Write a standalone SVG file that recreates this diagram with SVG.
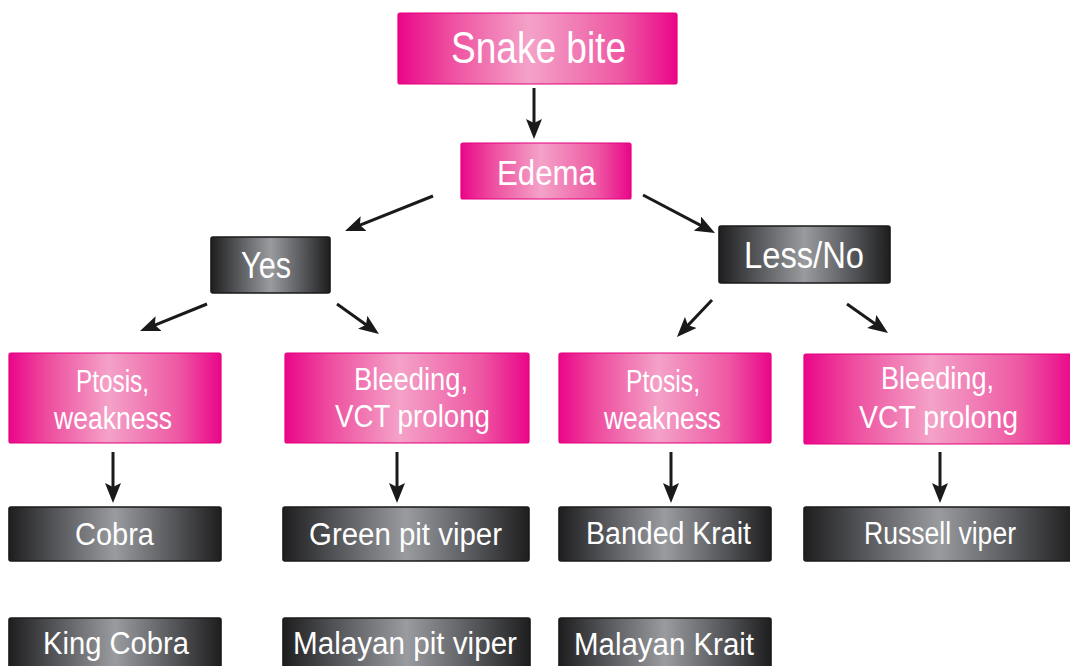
<svg xmlns="http://www.w3.org/2000/svg" width="1070" height="666" viewBox="0 0 1070 666">
<defs>
<linearGradient id="gPink" x1="0" y1="0" x2="1" y2="0">
<stop offset="0" stop-color="#EA068A"/>
<stop offset="0.18" stop-color="#EE4C9E"/>
<stop offset="0.47" stop-color="#F4A2C8"/>
<stop offset="0.8" stop-color="#EE58A3"/>
<stop offset="1" stop-color="#EA068A"/>
</linearGradient>
<linearGradient id="gDark" x1="0" y1="0" x2="1" y2="0">
<stop offset="0" stop-color="#1E1E1F"/>
<stop offset="0.2" stop-color="#505154"/>
<stop offset="0.5" stop-color="#999B9F"/>
<stop offset="0.8" stop-color="#505154"/>
<stop offset="1" stop-color="#1E1E1F"/>
</linearGradient>
<marker id="ah" viewBox="0 0 20 16" refX="14" refY="8" markerWidth="20" markerHeight="16" markerUnits="userSpaceOnUse" orient="auto">
<path d="M0,0 L20,8 L0,16 L4,8 Z" fill="#1a1a1a"/>
</marker>
</defs>
<style>
.pink{fill:url(#gPink);stroke:#E4007F;stroke-width:1.2}
.dark{fill:url(#gDark);stroke:#1a1a1a;stroke-width:1.6}
.t{fill:#ffffff;font-family:"Liberation Sans","DejaVu Sans",sans-serif;text-anchor:middle}
.s31{font-size:31px}
.c{stroke:#1a1a1a;stroke-width:3;fill:none;marker-end:url(#ah)}
</style>
<g id="connectors">
<line class="c" x1="534" y1="88" x2="534" y2="133"/>
<line class="c" x1="433" y1="196" x2="350.6" y2="228.8"/>
<line class="c" x1="643" y1="195" x2="709.7" y2="230.2"/>
<line class="c" x1="207" y1="304" x2="145.6" y2="328.8"/>
<line class="c" x1="337" y1="304" x2="374.1" y2="330.5"/>
<line class="c" x1="712" y1="300" x2="681.1" y2="332.6"/>
<line class="c" x1="847" y1="304" x2="883.1" y2="329.5"/>
<line class="c" x1="113" y1="452" x2="113" y2="497"/>
<line class="c" x1="397" y1="452" x2="397" y2="497"/>
<line class="c" x1="671" y1="452" x2="671" y2="497"/>
<line class="c" x1="940" y1="452" x2="940" y2="497"/>
</g>
<g id="snake-bite">
<rect class="pink" x="398" y="13" width="279" height="71" rx="2"/>
<text class="t" x="538.5" y="63" font-size="44" textLength="175" lengthAdjust="spacingAndGlyphs">Snake bite</text>
</g>
<g id="edema">
<rect class="pink" x="461" y="143" width="170" height="56" rx="2"/>
<text class="t" x="546.5" y="185" font-size="35" textLength="99" lengthAdjust="spacingAndGlyphs">Edema</text>
</g>
<g id="yes">
<rect class="dark" x="211" y="237" width="119" height="56" rx="2"/>
<text class="t" x="266" y="278" font-size="37" textLength="50" lengthAdjust="spacingAndGlyphs">Yes</text>
</g>
<g id="less-no">
<rect class="dark" x="719" y="226" width="171" height="57" rx="2"/>
<text class="t" x="804" y="268" font-size="36" textLength="120" lengthAdjust="spacingAndGlyphs">Less/No</text>
</g>
<g id="ptosis-yes">
<rect class="pink" x="9" y="353" width="212" height="90" rx="2"/>
<text class="t s31" x="112.5" y="392" textLength="73" lengthAdjust="spacingAndGlyphs">Ptosis,</text>
<text class="t s31" x="113" y="429" textLength="118" lengthAdjust="spacingAndGlyphs">weakness</text>
</g>
<g id="bleeding-yes">
<rect class="pink" x="285" y="353" width="244" height="90" rx="2"/>
<text class="t s31" x="411" y="390" textLength="114" lengthAdjust="spacingAndGlyphs">Bleeding,</text>
<text class="t s31" x="412.5" y="427" textLength="155" lengthAdjust="spacingAndGlyphs">VCT prolong</text>
</g>
<g id="ptosis-no">
<rect class="pink" x="559" y="353" width="212" height="90" rx="2"/>
<text class="t s31" x="663" y="392" textLength="74" lengthAdjust="spacingAndGlyphs">Ptosis,</text>
<text class="t s31" x="662.5" y="429" textLength="117" lengthAdjust="spacingAndGlyphs">weakness</text>
</g>
<g id="bleeding-no">
<rect class="pink" x="804" y="354" width="270" height="90" rx="2"/>
<text class="t s31" x="937.5" y="389" textLength="113" lengthAdjust="spacingAndGlyphs">Bleeding,</text>
<text class="t s31" x="938.5" y="428" textLength="159" lengthAdjust="spacingAndGlyphs">VCT prolong</text>
</g>
<g id="cobra">
<rect class="dark" x="9" y="507" width="212" height="54" rx="2"/>
<text class="t s31" x="114.5" y="545" textLength="79" lengthAdjust="spacingAndGlyphs">Cobra</text>
</g>
<g id="green-pit-viper">
<rect class="dark" x="283" y="507" width="246" height="54" rx="2"/>
<text class="t s31" x="405.5" y="545" textLength="193" lengthAdjust="spacingAndGlyphs">Green pit viper</text>
</g>
<g id="banded-krait">
<rect class="dark" x="559" y="507" width="212" height="54" rx="2"/>
<text class="t s31" x="668.5" y="544" textLength="165" lengthAdjust="spacingAndGlyphs">Banded Krait</text>
</g>
<g id="russell-viper">
<rect class="dark" x="804" y="507" width="270" height="54" rx="2"/>
<text class="t s31" x="940" y="544" textLength="152" lengthAdjust="spacingAndGlyphs">Russell viper</text>
</g>
<g id="king-cobra">
<rect class="dark" x="9" y="618" width="212" height="54" rx="2"/>
<text class="t s31" x="116" y="654" textLength="146" lengthAdjust="spacingAndGlyphs">King Cobra</text>
</g>
<g id="malayan-pit-viper">
<rect class="dark" x="283" y="618" width="247" height="54" rx="2"/>
<text class="t s31" x="405" y="654" textLength="224" lengthAdjust="spacingAndGlyphs">Malayan pit viper</text>
</g>
<g id="malayan-krait">
<rect class="dark" x="559" y="618" width="212" height="54" rx="2"/>
<text class="t s31" x="664" y="655" textLength="180" lengthAdjust="spacingAndGlyphs">Malayan Krait</text>
</g>
</svg>
